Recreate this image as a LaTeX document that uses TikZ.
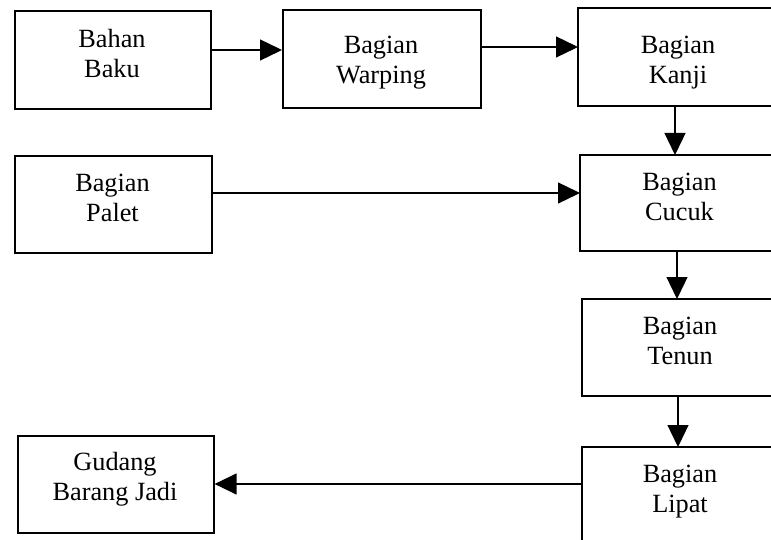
\documentclass[tikz,border=0pt]{standalone}
\usepackage{fontspec}
\setmainfont{Liberation Serif}
\usetikzlibrary{arrows.meta}
\begin{document}
\begin{tikzpicture}[x=1pt,y=-1pt,
  box/.style={draw=black,line width=1.6pt,rectangle,inner sep=0pt,anchor=north west},
  openbox/.style={rectangle,inner sep=0pt,outer sep=0pt,anchor=north west},
  side/.style={line width=1.6pt,line join=miter},
  lbl/.style={align=center,inner sep=0pt,anchor=north,font=\fontsize{26.3}{30}\selectfont},
  arr/.style={line width=1.3pt,-{Triangle[length=22pt,width=21pt]}}]
\useasboundingbox[fill=white] (0,0) rectangle (771,540);
% boxes
\node[box,minimum width=196pt,minimum height=98pt] (bahan) at (14,10) {};
\node[box,minimum width=198pt,minimum height=98pt] (warping) at (282,9) {};
\node[openbox,minimum width=220pt,minimum height=98pt] (kanji) at (578,8) {};
\node[box,minimum width=197pt,minimum height=97pt] (palet) at (14,155) {};
\node[openbox,minimum width=220pt,minimum height=96pt] (cucuk) at (580,155) {};
\node[openbox,minimum width=220pt,minimum height=97pt] (tenun) at (582,299) {};
\node[openbox,minimum width=220pt,minimum height=110pt] (lipat) at (582,447) {};
\node[box,minimum width=196pt,minimum height=97pt] (gudang) at (17,435) {};
\foreach \b in {kanji,cucuk,tenun,lipat}
  \draw[side] (\b.north east) -- (\b.north west) -- (\b.south west) -- (\b.south east);
% texts
\node[lbl] (bahanT) at (112,29) {Bahan\\Baku};
\node[lbl] (warpingT) at (381,36) {Bagian\\Warping};
\node[lbl] (kanjiT) at (678,36) {Bagian\\Kanji};
\node[lbl] (paletT) at (112.5,174) {Bagian\\Palet};
\node[lbl] (cucukT) at (679.5,173) {Bagian\\Cucuk};
\node[lbl] (tenunT) at (680,317) {Bagian\\Tenun};
\node[lbl] (lipatT) at (680,465) {Bagian\\Lipat};
\node[lbl] (gudangT) at (115,452) {Gudang\\Barang Jadi};
% connectors
\draw[arr] (bahan.east |- 0,50) -- (warping.west |- 0,50);
\draw[arr] (warping.east |- 0,47) -- (kanji.west |- 0,47);
\draw[arr] (kanji.south -| 675,0) -- (cucuk.north -| 675,0);
\draw[arr] (palet.east |- 0,193) -- (cucuk.west |- 0,193);
\draw[arr] (cucuk.south -| 677,0) -- (tenun.north -| 677,0);
\draw[arr] (tenun.south -| 678,0) -- (lipat.north -| 678,0);
\draw[arr] (lipat.west |- 0,484) -- (gudang.east |- 0,484);
\end{tikzpicture}
\end{document}
